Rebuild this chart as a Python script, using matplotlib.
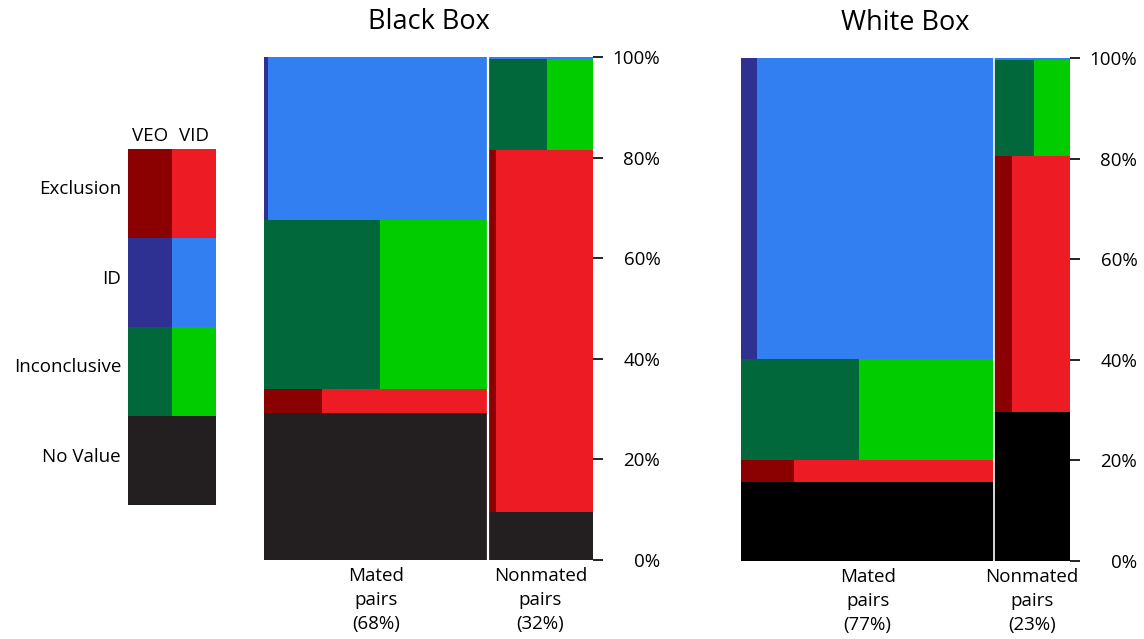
import matplotlib
matplotlib.use("Agg")
import matplotlib.pyplot as plt
from matplotlib.transforms import ScaledTranslation

plt.rcParams['font.family'] = ['Open Sans', 'DejaVu Sans']

# stacking order, bottom to top
categories = ["No Value", "Exclusion", "Inconclusive", "ID"]
legend_rows = ["Exclusion", "ID", "Inconclusive", "No Value"]

# share of each pair type (%)
bb_pair_share = [68, 32]
wb_pair_share = [77, 23]

# share of each decision within the pair type (%), bottom to top
bb_mated = [29.2, 4.8, 33.6, 32.4]
bb_nonmated = [9.6, 72.0, 18.0, 0.4]
wb_mated = [15.7, 4.4, 20.0, 59.9]
wb_nonmated = [29.6, 50.9, 19.2, 0.3]

# part of each decision that was made at VEO (%), rest is VID
bb_mated_veo = [100, 26, 52, 2]
bb_nonmated_veo = [100, 7.5, 56, 0]
wb_mated_veo = [100, 21, 46.5, 6.3]
wb_nonmated_veo = [100, 23, 53, 0]

pair_names = ["Mated\npairs", "Nonmated\npairs"]

veo_col = {"Exclusion": "#8B0000", "ID": "#2E3192", "Inconclusive": "#00683A"}
vid_col = {"Exclusion": "#ED1C24", "ID": "#317FF0", "Inconclusive": "#00CC00"}

FS = 13.5
W, H = 1144, 639
fig = plt.figure(figsize=(W / 100, H / 100), dpi=100)


def px_axes(x0, y0, x1, y1):
    # pixel box (top-left origin) -> figure fraction
    return fig.add_axes([x0 / W, (H - y1) / H, (x1 - x0) / W, (y1 - y0) / H])


def stack(ax, left, width, shares, veo, nv_color):
    bottom = 0
    for cat, h, f in zip(categories, shares, veo):
        if cat == "No Value":
            ax.bar(left, h, width=width, bottom=bottom, align='edge',
                   color=nv_color, linewidth=0, antialiased=False)
        else:
            wv = width * f / 100
            if wv > 0:
                ax.bar(left, h, width=wv, bottom=bottom, align='edge',
                       color=veo_col[cat], linewidth=0, antialiased=False)
            ax.bar(left + wv, h, width=width - wv, bottom=bottom, align='edge',
                   color=vid_col[cat], linewidth=0, antialiased=False)
        bottom += h


def panel(box, title, pair_share, mated, mated_veo, nonmated, nonmated_veo, nv_color, gap):
    ax = px_axes(*box)
    stack(ax, 0, pair_share[0], mated, mated_veo, nv_color)
    stack(ax, pair_share[0], pair_share[1], nonmated, nonmated_veo, nv_color)
    ax.axvline(pair_share[0], color='white', lw=gap)
    ax.set_xlim(0, 100)
    ax.set_ylim(0, 100)
    for s in ax.spines.values():
        s.set_visible(False)
    ax.yaxis.tick_right()
    ax.set_yticks(range(0, 101, 20))
    ax.set_yticklabels([f"{v}%" for v in range(0, 101, 20)])
    ax.tick_params(axis='y', direction='out', length=7.5, width=1.2,
                   pad=41, labelsize=FS)
    for t in ax.get_yticklabels():
        t.set_horizontalalignment('right')
    centers = [pair_share[0] / 2, pair_share[0] + pair_share[1] / 2]
    ax.set_xticks(centers)
    ax.set_xticklabels([f"{n}\n({s}%)" for n, s in zip(pair_names, pair_share)],
                       fontsize=FS, linespacing=1.42)
    ax.tick_params(axis='x', length=0, pad=5)
    ax.set_title(title, fontsize=19.5, pad=20)
    return ax


panel((264, 57, 593, 560), "Black Box", bb_pair_share,
      bb_mated, bb_mated_veo, bb_nonmated, bb_nonmated_veo, "#231F20", 1.6)
panel((741, 58, 1070, 561), "White Box", wb_pair_share,
      wb_mated, wb_mated_veo, wb_nonmated, wb_nonmated_veo, "#000000", 1.2)

# legend block
lg = px_axes(128, 149, 216, 505)
for i, cat in enumerate(legend_rows):
    y = len(legend_rows) - 1 - i
    if cat == "No Value":
        lg.barh(y, 2, left=0, height=1, align='edge', color="#231F20",
                linewidth=0, antialiased=False)
    else:
        lg.barh(y, 1, left=0, height=1, align='edge', color=veo_col[cat],
                linewidth=0, antialiased=False)
        lg.barh(y, 1, left=1, height=1, align='edge', color=vid_col[cat],
                linewidth=0, antialiased=False)
lg.set_xlim(0, 2)
lg.set_ylim(0, 4)
for s in lg.spines.values():
    s.set_visible(False)
lg.set_yticks([len(legend_rows) - 0.5 - i for i in range(len(legend_rows))])
lg.set_yticklabels(legend_rows, fontsize=FS)
lg.xaxis.tick_top()
lg.set_xticks([0.5, 1.5])
lg.set_xticklabels(["VEO", "VID"], fontsize=FS)
lg.tick_params(length=0)
lg.tick_params(axis='y', pad=5)
lg.tick_params(axis='x', pad=3)
# row labels sit a little above the middle of each row
shift = ScaledTranslation(0, 6 / 100, fig.dpi_scale_trans)
for t in lg.get_yticklabels():
    t.set_transform(t.get_transform() + shift)

fig.savefig("out.png", dpi=100)
